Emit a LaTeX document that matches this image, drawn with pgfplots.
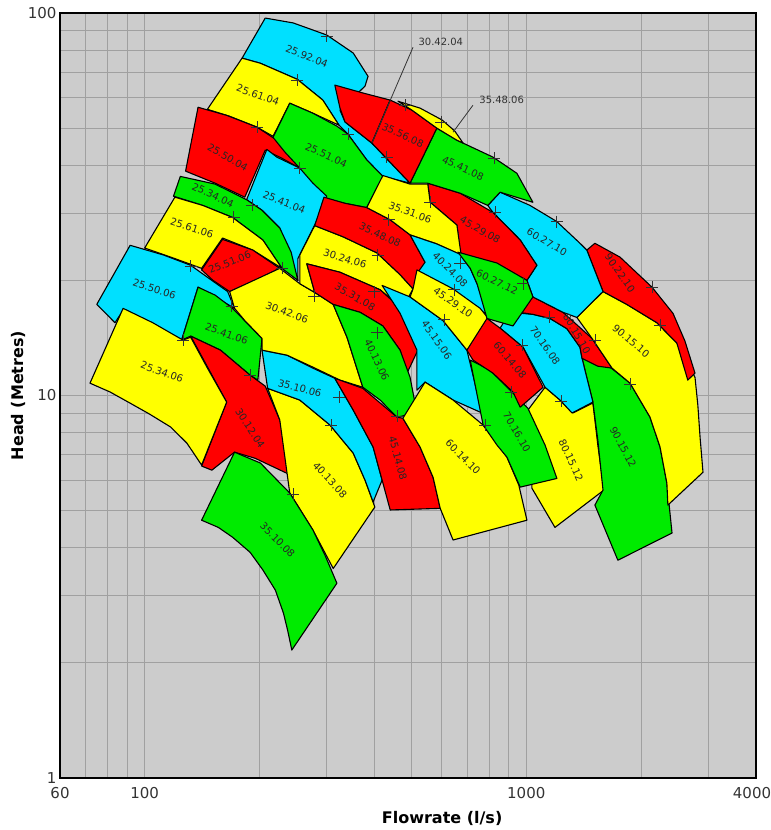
\documentclass[border=0pt]{standalone}
\usepackage{pgfplots}
\pgfplotsset{compat=1.18}
\usepackage{fontspec}
\setmainfont{DejaVu Sans}
\definecolor{tcyan}{RGB}{0,224,255}
\definecolor{tyellow}{RGB}{255,255,0}
\definecolor{tred}{RGB}{255,0,0}
\definecolor{tgreen}{RGB}{0,235,0}
\definecolor{bggray}{RGB}{204,204,204}
\definecolor{gridgray}{RGB}{160,160,160}
\tikzset{tile/.style={draw=black, line width=1.1pt, line join=round},
  lbl/.style={font=\fontsize{10}{12}\selectfont, text=black!85, inner sep=0pt}}
\begin{document}
\begin{tikzpicture}
\begin{axis}[
  xmode=log, ymode=log,
  scale only axis, width=696pt, height=765pt,
  xmin=60, xmax=4000, ymin=1, ymax=100,
  xtick={60,100,1000,4000}, xticklabels={60,100,1000,\hspace*{-8pt}4000},
  ytick={1,10,100}, yticklabels={1,10,100},
  minor xtick={70,80,90,200,300,400,500,600,700,800,900,2000,3000},
  minor ytick={2,3,4,5,6,7,8,9,20,30,40,50,60,70,80,90},
  grid=both,
  major grid style={gridgray, line width=0.8pt},
  minor grid style={gridgray, line width=0.8pt},
  major tick length=0pt, minor tick length=0pt,
  axis background/.style={fill=bggray},
  axis line style={line width=2.5pt, black},
  tick label style={font=\fontsize{15}{18}\selectfont, text=black!80},
  xticklabel style={yshift=-6pt},
  xlabel={Flowrate (l/s)}, ylabel={Head (Metres)},
  label style={font=\bfseries\fontsize{16}{19}\selectfont},
  xlabel style={at={(axis description cs:0.549,-0.0523)}, anchor=center},
  ylabel style={at={(axis description cs:-0.0603,0.5)}, anchor=center},
]
% 25.92.04 (cyan, back)
\addplot[tile, fill=tcyan] coordinates {(207,97.0) (245,94.2) (300,87.6) (352,78.6) (385,68.3) (378,64.4) (325,55.7) (335,51.9) (394,45.7) (496,35.9) (421,37.4) (382,41.3) (341,48.2) (323,50.9) (293,59.2) (251,67.1) (201,73.9) (180,76.2)} -- cycle;
% 25.61.04
\addplot[tile, fill=tyellow] coordinates {(180,76.2) (201,73.9) (251,67.1) (293,59.2) (323,50.9) (276,54.7) (240,58.1) (217,47.6) (197,50.3) (167,53.7) (146,56.0)} -- cycle;
% 25.50.04
\addplot[tile, fill=tred] coordinates {(138,56.7) (164,54.0) (197,50.3) (222,46.5) (255,39.3) (229,41.7) (207,43.8) (183,33.0) (153,35.9) (128,38.6)} -- cycle;
% 25.51.04
\addplot[tile, fill=tgreen] coordinates {(240,58.1) (276,54.7) (319,50.6) (341,48.2) (382,41.3) (421,37.4) (382,31.0) (335,31.8) (300,32.7) (271,35.5) (255,39.3) (233,43.3) (217,47.3)} -- cycle;
% 25.41.04
\addplot[tile, fill=tcyan] coordinates {(209,44.0) (222,42.0) (255,39.3) (276,35.9) (300,33.2) (279,27.9) (252,22.8) (252,20.0) (240,23.3) (226,27.4) (203,30.5) (185,32.5)} -- cycle;
% 25.34.04
\addplot[tile, fill=tgreen] coordinates {(124,37.4) (153,35.7) (185,32.5) (203,30.5) (226,27.4) (242,23.7) (252,20.0) (229,21.5) (204,25.5) (170,29.2) (142,31.4) (119,33.2)} -- cycle;
% 25.61.06
\addplot[tile, fill=tyellow] coordinates {(120,33.0) (142,31.4) (170,29.2) (204,25.5) (229,21.5) (192,24.0) (160,25.8) (141,21.5) (120,22.8) (100,24.3)} -- cycle;
% 25.51.06
\addplot[tile, fill=tred] coordinates {(160,25.6) (192,24.0) (226,21.5) (195,20.0) (167,18.7) (151,20.0) (141,21.3)} -- cycle;
% 25.50.06
\addplot[tile, fill=tcyan] coordinates {(91.6,24.7) (112,23.3) (132,21.9) (151,19.9) (165,18.7) (172,16.9) (138,19.2) (125,13.96) (103,15.1) (87.8,16.7) (83.6,15.5) (74.9,17.3)} -- cycle;
% 25.41.06
\addplot[tile, fill=tgreen] coordinates {(138,19.2) (153,18.3) (170,16.9) (203,14.1) (198,10.97) (189,11.3) (158,13.14) (132,14.3) (125,13.96)} -- cycle;
% 30.12.04
\addplot[tile, fill=tred] coordinates {(132,14.3) (158,13.14) (189,11.3) (207,10.58) (226,8.63) (245,6.15) (195,6.85) (172,7.11) (150,6.38) (141,6.54) (164,9.61)} -- cycle;
% 25.34.06
\addplot[tile, fill=tyellow] coordinates {(87.8,16.9) (105,15.5) (126,13.96) (132,14.2) (146,11.8) (164,9.61) (141,6.58) (129,7.51) (117,8.27) (103,8.94) (91.6,9.55) (81.2,10.21) (71.9,10.77)} -- cycle;
% 40.13.08
\addplot[tile, fill=tyellow] coordinates {(210,10.44) (255,9.73) (306,8.37) (352,7.07) (378,6.01) (401,5.11) (312,3.53) (276,4.45) (240,5.56) (226,8.63)} -- cycle;
% 35.10.06
\addplot[tile, fill=tcyan] coordinates {(203,13.14) (236,12.75) (276,11.79) (315,11.09) (352,9.16) (397,7.33) (419,6.01) (397,5.27) (378,6.01) (352,7.07) (306,8.37) (255,9.73) (210,10.44)} -- cycle;
% 35.10.08
\addplot[tile, fill=tgreen] coordinates {(172,7.11) (201,6.66) (240,5.56) (276,4.45) (297,3.82) (319,3.23) (243,2.16) (237,2.43) (231,2.70) (220,3.10) (204,3.50) (189,3.89) (170,4.26) (156,4.52) (141,4.72)} -- cycle;
% 30.42.06
\addplot[tile, fill=tyellow] coordinates {(167,18.7) (226,21.5) (255,19.6) (279,18.6) (312,17.3) (339,14.2) (373,10.51) (325,10.97) (276,11.86) (236,12.75) (203,13.14) (203,14.1) (183,15.7) (172,16.9)} -- cycle;
% 30.24.06
\addplot[tile, fill=tyellow] coordinates {(255,23.3) (279,27.8) (331,26.0) (406,23.6) (467,20.7) (505,19.0) (473,16.9) (414,18.9) (325,21.0) (266,22.1) (279,18.6) (255,19.6)} -- cycle;
% 35.48.08
\addplot[tile, fill=tred] coordinates {(295,33.0) (335,31.8) (382,31.0) (440,28.8) (496,26.3) (543,22.3) (505,19.0) (467,20.7) (406,23.6) (331,26.0) (279,27.8)} -- cycle;
% 35.31.08
\addplot[tile, fill=tred] coordinates {(266,22.1) (325,21.0) (414,18.9) (475,16.7) (520,13.14) (487,11.44) (467,13.14) (421,15.2) (367,16.5) (312,17.3) (279,18.6)} -- cycle;
% 45.15.06
\addplot[tile, fill=tcyan] coordinates {(419,19.4) (496,18.1) (605,15.7) (699,13.14) (766,9.00) (643,9.73) (543,10.84) (517,10.33) (517,13.14) (467,16.4)} -- cycle;
% 40.13.06
\addplot[tile, fill=tgreen] coordinates {(312,17.3) (367,16.5) (421,15.2) (467,13.14) (496,11.16) (517,9.00) (458,8.78) (414,9.73) (373,10.51) (339,14.2)} -- cycle;
% 45.14.08
\addplot[tile, fill=tred] coordinates {(315,11.09) (373,10.44) (458,8.78) (475,8.72) (527,7.33) (570,6.11) (595,5.07) (440,5.02) (419,6.01) (397,7.33) (352,9.16)} -- cycle;
% 60.14.10
\addplot[tile, fill=tyellow] coordinates {(543,10.84) (643,9.73) (771,8.37) (890,6.90) (956,5.83) (1004,4.72) (643,4.19) (595,5.07) (570,6.11) (527,7.33) (475,8.72)} -- cycle;
% 80.15.12
\addplot[tile, fill=tyellow] coordinates {(1120,10.51) (1226,9.73) (1325,9.00) (1495,9.56) (1540,7.42) (1598,5.66) (1189,4.52) (1035,5.72) (1010,9.16)} -- cycle;
% 70.16.10
\addplot[tile, fill=tgreen] coordinates {(713,12.38) (804,11.65) (907,10.33) (1010,9.26) (1120,7.42) (1203,6.07) (964,5.76) (890,6.90) (838,7.42) (771,8.37) (757,9.16)} -- cycle;
% 90.15.12
\addplot[tile, fill=tgreen] coordinates {(1400,12.51) (1658,11.86) (1871,10.77) (2110,8.78) (2242,7.33) (2336,5.90) (2410,4.37) (1738,3.71) (1513,5.17) (1589,5.66) (1540,7.65) (1495,9.61)} -- cycle;
% 70.16.08
\addplot[tile, fill=tcyan] coordinates {(907,16.5) (1041,16.3) (1154,15.9) (1278,14.95) (1383,13.37) (1400,12.51) (1495,9.61) (1318,9.00) (1226,9.73) (1120,10.51) (981,13.37) (854,15.0)} -- cycle;
% 80.15.10
\addplot[tile, fill=tred] coordinates {(1041,18.1) (1248,16.5) (1487,14.1) (1678,11.79) (1540,11.93) (1400,12.51) (1383,13.37) (1278,14.95) (1154,15.9) (1041,16.3) (918,16.6)} -- cycle;
% 90.15.10
\addplot[tile, fill=tyellow] coordinates {(1589,18.7) (1835,17.3) (2199,15.5) (2481,13.71) (2768,11.16) (2816,9.44) (2854,7.78) (2905,6.30) (2350,5.17) (2336,5.90) (2242,7.33) (2110,8.78) (1871,10.77) (1678,11.79) (1487,14.1) (1357,16.0)} -- cycle;
% 90.22.10
\addplot[tile, fill=tred] coordinates {(1441,24.0) (1513,25.0) (1761,23.0) (2135,19.2) (2424,16.4) (2605,13.88) (2768,11.44) (2650,10.97) (2481,13.71) (2199,15.5) (1835,17.3) (1589,18.7)} -- cycle;
% 60.27.10
\addplot[tile, fill=tcyan] coordinates {(854,34.0) (1023,31.4) (1202,28.5) (1383,25.0) (1441,24.0) (1589,18.7) (1357,16.0) (1248,16.5) (1041,18.1) (1004,20.0) (1066,21.9) (964,25.5) (818,30.1) (793,31.4)} -- cycle;
% 45.29.08
\addplot[tile, fill=tred] coordinates {(552,35.9) (671,33.8) (818,30.1) (964,25.5) (1066,21.9) (1004,20.0) (838,21.9) (671,23.6) (658,27.9) (560,32.0)} -- cycle;
% 35.31.06
\addplot[tile, fill=tyellow] coordinates {(421,37.6) (496,35.7) (552,35.7) (560,32.0) (658,27.9) (675,23.3) (583,24.9) (496,26.3) (440,28.8) (382,31.0)} -- cycle;
% 40.24.08
\addplot[tile, fill=tcyan] coordinates {(496,26.3) (583,24.9) (671,23.4) (713,21.5) (743,19.6) (818,16.0) (757,16.7) (643,18.9) (520,21.0) (543,22.3)} -- cycle;
% 45.29.10
\addplot[tile, fill=tyellow] coordinates {(517,21.3) (643,19.0) (757,16.9) (804,15.7) (699,13.14) (605,15.7) (496,18.1) (505,19.0)} -- cycle;
% 60.27.12
\addplot[tile, fill=tgreen] coordinates {(662,23.7) (838,22.2) (1004,20.0) (1041,18.1) (923,15.2) (789,15.9) (743,19.6) (713,21.5)} -- cycle;
% 60.14.08
\addplot[tile, fill=tred] coordinates {(789,15.9) (854,15.0) (981,13.37) (1107,10.51) (964,9.32) (923,10.21) (818,11.44) (725,12.38) (699,13.14)} -- cycle;
% 45.41.08
\addplot[tile, fill=tgreen] coordinates {(583,50.0) (658,46.5) (818,42.0) (945,38.1) (1041,32.0) (854,34.0) (793,31.4) (671,33.8) (552,35.9) (496,35.9)} -- cycle;
% 30.42.04
\addplot[tile, fill=tred] coordinates {(315,64.8) (373,61.8) (440,59.2) (394,45.7) (335,51.9) (325,56.4)} -- cycle;
% 35.56.08
\addplot[tile, fill=tred] coordinates {(440,59.2) (502,55.7) (583,50.0) (496,35.9) (394,45.7)} -- cycle;
% 35.48.06 (sliver)
\addplot[tile, fill=tyellow] coordinates {(461,58.8) (527,56.4) (602,52.5) (650,49.1) (683,45.7) (658,46.5) (583,50.0) (502,55.7)} -- cycle;

% best efficiency points
\addplot[only marks, mark=+, mark size=6pt, mark options={line width=0.7pt, draw=black!80}] coordinates {
(300,87.0) (251,66.8) (197,50.3) (341,48.2) (255,39.3) (191,31.4) (171,29.2) (229,21.5) (132,21.8) (169,17.1) (126,13.96) (189,11.3) (278,18.2) (323,9.90) (308,8.37) (245,5.52) (481,57.4) (598,51.9) (431,42.0) (823,41.7) (560,32.0) (436,28.8) (828,30.1) (1202,28.5) (408,23.3) (399,18.7) (406,14.6) (458,8.83) (671,22.2) (981,19.6) (647,18.9) (609,15.8) (780,8.37) (913,10.21) (975,13.54) (1146,16.0) (1513,13.96) (1233,9.67) (1871,10.71) (2135,19.2) (2242,15.3)};

% callouts
\addplot[black!80, line width=0.8pt] coordinates {(505,81.4) (394,45.7)};
\addplot[black!80, line width=0.8pt] coordinates {(725,57.4) (643,48.8)};
\node[anchor=west, font=\fontsize{10}{12}\selectfont, text=black!80] at (axis cs:511,84.0) {30.42.04};
\node[anchor=west, font=\fontsize{10}{12}\selectfont, text=black!80] at (axis cs:738,59.2) {35.48.06};

% tile labels
\node[lbl, rotate=-22] at (axis cs:266,77.1) {25.92.04};
\node[lbl, rotate=-20] at (axis cs:198,61.0) {25.61.04};
\node[lbl, rotate=-30] at (axis cs:165,42.0) {25.50.04};
\node[lbl, rotate=-25] at (axis cs:299,42.5) {25.51.04};
\node[lbl, rotate=-22] at (axis cs:232,32.0) {25.41.04};
\node[lbl, rotate=-25] at (axis cs:151,33.4) {25.34.04};
\node[lbl, rotate=-18] at (axis cs:133,27.4) {25.61.06};
\node[lbl, rotate=22] at (axis cs:167,22.3) {25.51.06};
\node[lbl, rotate=-18] at (axis cs:106,19.0) {25.50.06};
\node[lbl, rotate=-20] at (axis cs:164,14.5) {25.41.06};
\node[lbl, rotate=-20] at (axis cs:111,11.51) {25.34.06};
\node[lbl, rotate=-57] at (axis cs:189,8.22) {30.12.04};
\node[lbl, rotate=-45] at (axis cs:223,4.19) {35.10.08};
\node[lbl, rotate=-47] at (axis cs:306,6.01) {40.13.08};
\node[lbl, rotate=-15] at (axis cs:255,10.44) {35.10.06};
\node[lbl, rotate=-20] at (axis cs:236,16.5) {30.42.06};
\node[lbl, rotate=-18] at (axis cs:335,22.8) {30.24.06};
\node[lbl, rotate=-25] at (axis cs:414,26.3) {35.48.08};
\node[lbl, rotate=-20] at (axis cs:496,30.1) {35.31.06};
\node[lbl, rotate=-25] at (axis cs:475,47.9) {35.56.08};
\node[lbl, rotate=-25] at (axis cs:683,39.3) {45.41.08};
\node[lbl, rotate=-30] at (axis cs:757,27.1) {45.29.08};
\node[lbl, rotate=-30] at (axis cs:1133,25.2) {60.27.10};
\node[lbl, rotate=-45] at (axis cs:632,21.3) {40.24.08};
\node[lbl, rotate=-25] at (axis cs:838,19.8) {60.27.12};
\node[lbl, rotate=-30] at (axis cs:356,18.1) {35.31.08};
\node[lbl, rotate=-65] at (axis cs:406,12.38) {40.13.06};
\node[lbl, rotate=-35] at (axis cs:643,17.5) {45.29.10};
\node[lbl, rotate=-55] at (axis cs:583,13.96) {45.15.06};
\node[lbl, rotate=-50] at (axis cs:907,12.38) {60.14.08};
\node[lbl, rotate=-55] at (axis cs:1120,13.54) {70.16.08};
\node[lbl, rotate=-60] at (axis cs:1357,14.5) {80.15.10};
\node[lbl, rotate=-55] at (axis cs:1761,20.9) {90.22.10};
\node[lbl, rotate=-40] at (axis cs:1882,13.88) {90.15.10};
\node[lbl, rotate=-62] at (axis cs:1793,7.33) {90.15.12};
\node[lbl, rotate=-65] at (axis cs:1310,6.78) {80.15.12};
\node[lbl, rotate=-60] at (axis cs:945,8.02) {70.16.10};
\node[lbl, rotate=-45] at (axis cs:683,6.90) {60.14.10};
\node[lbl, rotate=-75] at (axis cs:461,6.85) {45.14.08};
\end{axis}
\pgfresetboundingbox
\path[use as bounding box] (-60pt,-52pt) rectangle (711pt,778pt);
\end{tikzpicture}
\end{document}
